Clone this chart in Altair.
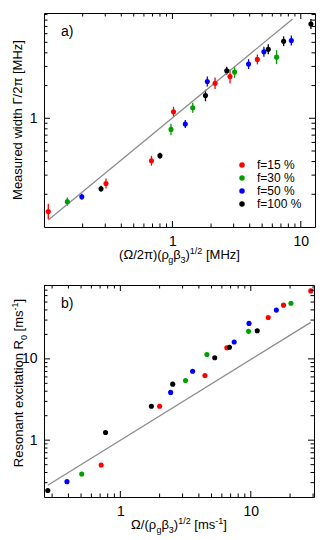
import altair as alt
import pandas as pd

FONT = "Liberation Sans"
SERIES = ["f=15 %", "f=30 %", "f=50 %", "f=100 %"]
COLORS = ["#ff0000", "#00a000", "#0000ff", "#000000"]

# ---------------- panel a) data ----------------
a_red_x = [0.108, 0.304, 0.687, 1.02, 2.15, 2.81, 4.59]
a_red_y = [0.139, 0.251, 0.407, 1.15, 2.10, 2.42, 3.48]
a_red_err = [0.18, 0.11, 0.11, 0.11, 0.13, 0.16, 0.11]
a_green_x = [0.152, 0.975, 1.44, 3.05, 6.48]
a_green_y = [0.171, 0.79, 1.25, 2.66, 3.65]
a_green_err = [0.09, 0.13, 0.11, 0.13, 0.16]
a_blue_x = [0.197, 1.26, 1.87, 3.92, 5.16, 8.44]
a_blue_y = [0.19, 0.887, 2.18, 3.15, 4.09, 5.19]
a_blue_err = [0.065, 0.09, 0.11, 0.11, 0.11, 0.11]
a_black_x = [0.278, 0.80, 1.81, 2.65, 5.58, 7.35, 11.99]
a_black_y = [0.225, 0.453, 1.62, 2.74, 4.32, 5.11, 7.37]
a_black_err = [0.065, 0.065, 0.13, 0.09, 0.11, 0.11, 0.11]
a_line_x = [0.108, 8.63]
a_line_y = [0.116, 8.19]

# ---------------- panel b) data ----------------
b_red_x = [28.8, 17.8, 13.6, 6.55, 4.45, 2.0, 0.713]
b_red_y = [68.5, 45.8, 32.3, 13.7, 6.25, 2.61, 0.494]
b_green_x = [20.3, 9.61, 4.61, 3.16, 0.506]
b_green_y = [48.4, 21.8, 11.3, 5.43, 0.384]
b_blue_x = [15.7, 9.69, 7.46, 3.58, 2.43, 0.39]
b_blue_y = [39.8, 27.3, 16.1, 7.05, 3.87, 0.309]
b_black_x = [11.2, 6.86, 5.29, 2.52, 1.73, 0.77, 0.278]
b_black_y = [22.2, 13.9, 10.3, 4.89, 2.61, 1.24, 0.24]
b_line_x = [0.278, 28.8]
b_line_y = [0.279, 28.1]

# tick values
a_x_major = [1, 10]
a_x_minor = [0.2, 0.3, 0.4, 0.5, 0.6, 0.7, 0.8, 0.9, 2, 3, 4, 5, 6, 7, 8, 9]
a_y_major = [1]
a_y_minor = [0.2, 0.3, 0.4, 0.5, 0.6, 0.7, 0.8, 0.9, 2, 3, 4, 5, 6, 7, 8, 9]
b_x_major = [1, 10]
b_x_minor = [0.3, 0.4, 0.5, 0.6, 0.7, 0.8, 0.9, 2, 3, 4, 5, 6, 7, 8, 9, 20, 30]
b_y_major = [1, 10]
b_y_minor = [0.3, 0.4, 0.5, 0.6, 0.7, 0.8, 0.9, 2, 3, 4, 5, 6, 7, 8, 9,
             20, 30, 40, 50, 60, 70, 80]

A_XDOM = [0.1, 12.9]
A_YDOM = [0.1, 9.3]
B_XDOM = [0.26, 30.5]
B_YDOM = [0.2, 81]
AW, AH = 271, 214
BW, BH = 270, 212

MAIN = 13
TICKF = 14
SMALL = 9

CW = {' ': 278, '(': 333, ')': 333, '/': 278, '[': 278, ']': 278, '-': 333,
      'M': 833, 'H': 722, 'z': 500, 'm': 833, 's': 500, 'R': 722, 'e': 556,
      'a': 556, 'o': 556, 'n': 556, 't': 278, 'c': 500, 'x': 500, 'i': 222,
      'r': 333, 'Ω': 768, 'π': 600, 'ρ': 572, 'β': 567, 'g': 556}


def tw(t, size):
    return sum(CW.get(c, 556) for c in t) * size / 1000.0


ONE = pd.DataFrame({"k": [0]})


def txt(t, x, y, size, angle=0, align="left", baseline="alphabetic"):
    return alt.Chart(ONE).mark_text(
        text=t, fontSize=size, font=FONT, angle=angle, align=align,
        baseline=baseline, color="black"
    ).encode(x=alt.value(x), y=alt.value(y))


def _split(t):
    lead = len(t) - len(t.lstrip(" "))
    return lead, t.lstrip(" ")


def compose_h(pieces, cx, by):
    sizes = [MAIN if k == "n" else SMALL for _, k in pieces]
    total = sum(tw(t, s) for (t, _), s in zip(pieces, sizes))
    x = cx - total / 2
    out = []
    for (t, k), s in zip(pieces, sizes):
        lead, body = _split(t)
        x += tw(" " * lead, s)
        dy = 4 if k == "sub" else (-5.5 if k == "sup" else 0)
        out.append(txt(body, x, by + dy, s))
        x += tw(body, s)
    return out


def compose_v(pieces, bx, cy):
    sizes = [MAIN if k == "n" else SMALL for _, k in pieces]
    total = sum(tw(t, s) for (t, _), s in zip(pieces, sizes))
    y = cy + total / 2
    out = []
    for (t, k), s in zip(pieces, sizes):
        lead, body = _split(t)
        y -= tw(" " * lead, s)
        dx = 4 if k == "sub" else (-5.5 if k == "sup" else 0)
        out.append(txt(body, bx + dx, y, s, angle=270))
        y -= tw(body, s)
    return out


def make_df(xs, ys, errs=None):
    rows = []
    for name, xv, yv, ev in zip(SERIES, xs, ys, errs or [None] * 4):
        for i in range(len(xv)):
            e = ev[i] if ev else 0.0
            rows.append({"s": name, "x": xv[i], "y": yv[i],
                         "lo": yv[i] / (1 + e), "hi": yv[i] * (1 + e)})
    return pd.DataFrame(rows)


def panel(df, line_df, xdom, ydom, W, H, xmaj, xmin, ymaj, ymin, legend,
          label, extra, errbars):
    xs = alt.Scale(type="log", domain=xdom, nice=False)
    ys = alt.Scale(type="log", domain=ydom, nice=False)
    axx = alt.Axis(values=[1, 10], format="~g", ticks=False, domain=False,
                   grid=False, labelFontSize=TICKF, labelFont=FONT,
                   labelColor="black", labelPadding=7, labelFlush=False,
                   labelOverlap=False, title=None)
    axy = alt.Axis(values=[1, 10], format="~g", ticks=False, domain=False,
                   grid=False, labelFontSize=TICKF, labelFont=FONT,
                   labelColor="black", labelPadding=7, labelFlush=False,
                   labelOverlap=False, title=None)
    X = lambda f: alt.X(f, type="quantitative", scale=xs, axis=axx)
    Y = lambda f: alt.Y(f, type="quantitative", scale=ys, axis=axy)
    cscale = alt.Scale(domain=SERIES, range=COLORS)
    col = alt.Color("s:N", scale=cscale, legend=legend, sort=SERIES)

    layers = []
    if errbars:
        layers.append(alt.Chart(df).mark_rule(strokeWidth=1.3).encode(
            x=X("x"), y=Y("lo"), y2="hi", color=col))
    layers.append(alt.Chart(line_df).mark_line(color="#8c8c8c", strokeWidth=1.3)
                  .encode(x=X("x"), y=Y("y")))
    layers.append(alt.Chart(df).mark_circle(size=26, opacity=1).encode(
        x=X("x"), y=Y("y"), color=col))

    def tdf(v):
        return pd.DataFrame({"v": v})
    for vals, L in ((xmaj, 6), (xmin, 3.5)):
        layers.append(alt.Chart(tdf(vals)).mark_rule(color="black", strokeWidth=1)
                      .encode(x=X("v"), y=alt.value(H), y2=alt.value(H - L)))
        layers.append(alt.Chart(tdf(vals)).mark_rule(color="black", strokeWidth=1)
                      .encode(x=X("v"), y=alt.value(0), y2=alt.value(L)))
    for vals, L in ((ymaj, 6), (ymin, 3.5)):
        layers.append(alt.Chart(tdf(vals)).mark_rule(color="black", strokeWidth=1)
                      .encode(y=Y("v"), x=alt.value(0), x2=alt.value(L)))
        layers.append(alt.Chart(tdf(vals)).mark_rule(color="black", strokeWidth=1)
                      .encode(y=Y("v"), x=alt.value(W), x2=alt.value(W - L)))
    layers.append(txt(label, 17, 23, 14))
    layers.extend(extra)
    return alt.layer(*layers).properties(width=W, height=H)


dfa = make_df([a_red_x, a_green_x, a_blue_x, a_black_x],
              [a_red_y, a_green_y, a_blue_y, a_black_y],
              [a_red_err, a_green_err, a_blue_err, a_black_err])
dfb = make_df([b_red_x, b_green_x, b_blue_x, b_black_x],
              [b_red_y, b_green_y, b_blue_y, b_black_y])
la = pd.DataFrame({"x": a_line_x, "y": a_line_y})
lb = pd.DataFrame({"x": b_line_x, "y": b_line_y})

leg = alt.Legend(orient="none", legendX=192, legendY=146, title=None,
                 symbolType="circle", symbolSize=30, symbolStrokeWidth=0,
                 labelFontSize=12, labelFont=FONT, labelColor="black",
                 labelOffset=9, rowPadding=1, padding=0)

a_extra = [txt("Measured width Γ/2π [MHz]", -22, 107, MAIN, angle=270,
               align="center")]
a_extra += compose_h([("(Ω/2π)(ρ", "n"), ("g", "sub"), ("β", "n"),
                      ("3", "sub"), (")", "n"), ("1/2", "sup"),
                      (" [MHz]", "n")], AW / 2, AH + 32)

b_extra = compose_v([("Resonant excitation R", "n"), ("0", "sub"),
                     (" [ms", "n"), ("-1", "sup"), ("]", "n")], -21, 98)
b_extra += compose_h([("Ω/(ρ", "n"), ("g", "sub"), ("β", "n"),
                      ("3", "sub"), (")", "n"), ("1/2", "sup"),
                      (" [ms", "n"), ("-1", "sup"), ("]", "n")], BW / 2, BH + 32)

top = panel(dfa, la, A_XDOM, A_YDOM, AW, AH, a_x_major, a_x_minor,
            a_y_major, a_y_minor, leg, "a)", a_extra, True)
bot = panel(dfb, lb, B_XDOM, B_YDOM, BW, BH, b_x_major, b_x_minor,
            b_y_major, b_y_minor, None, "b)", b_extra, False)

chart = alt.vconcat(top, bot, spacing=18).resolve_scale(
    color="independent").resolve_legend(color="independent").properties(
    padding={"left": 2, "top": 4, "right": 2, "bottom": 2}
).configure_view(stroke="black", strokeWidth=1)

chart.save("out.html", embed_options={"renderer": "svg", "actions": False})
